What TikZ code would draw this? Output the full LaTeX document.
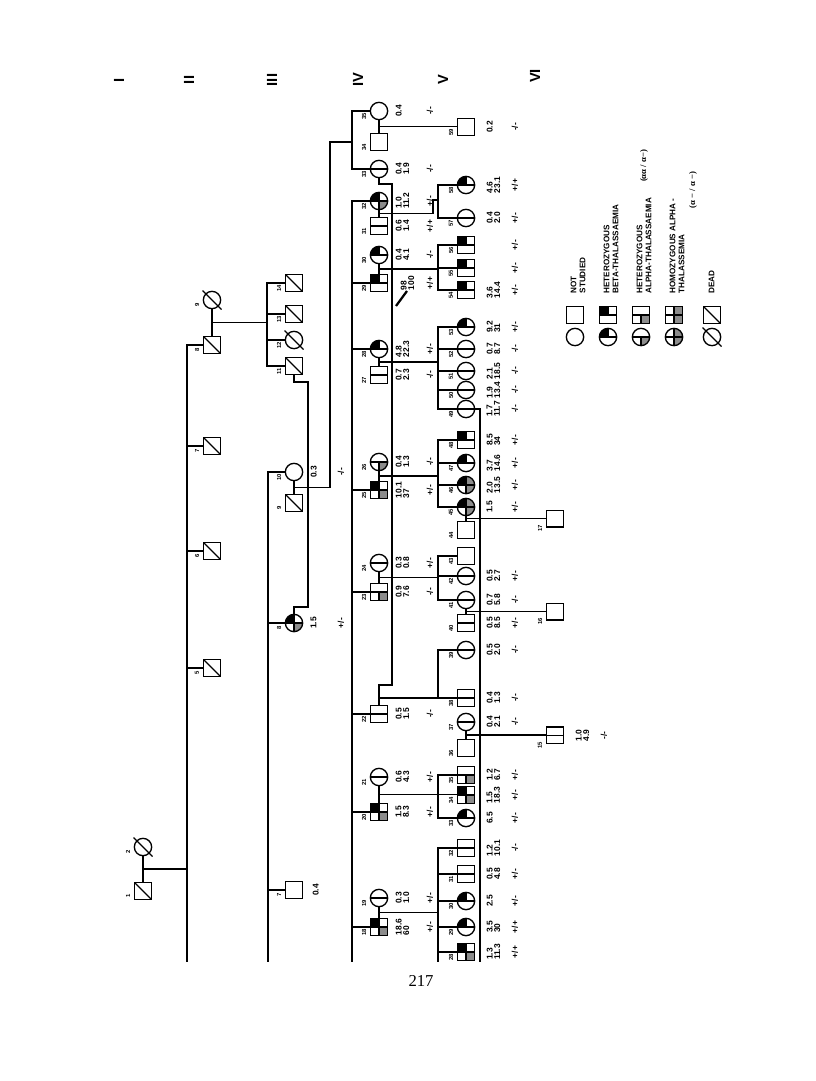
\documentclass[tikz,border=0pt]{standalone}
\usepackage{fontspec}
\setmainfont{Liberation Serif}
\newfontfamily\hv{Liberation Sans}
\usetikzlibrary{calc}
\def\pb{path picture bounding box}
\tikzset{
 ind/.style={draw, line width=1pt, inner sep=0pt, fill=white},
 sq/.style={ind, rectangle, minimum size=12.5pt},
 ci/.style={ind, circle, minimum size=13pt},
 tA/.style={path picture={\draw[line width=0.8pt] (\pb.west) -- (\pb.east);}},
 tB/.style={path picture={\fill[black] (\pb.center) rectangle (\pb.north west);
   \draw[line width=0.8pt] (\pb.west) -- (\pb.east) (\pb.center) -- (\pb.north);}},
 tBA/.style={path picture={\fill[black] (\pb.center) rectangle (\pb.north west);
   \fill[black!45] (\pb.center) rectangle (\pb.south east);
   \draw[line width=0.8pt] (\pb.west) -- (\pb.east) (\pb.north) -- (\pb.south);}},
 tAG/.style={path picture={\fill[black!45] (\pb.center) rectangle (\pb.south east);
   \draw[line width=0.8pt] (\pb.west) -- (\pb.east) (\pb.center) -- (\pb.south);}},
 tBD/.style={path picture={\fill[black] (\pb.center) rectangle (\pb.north west);
   \fill[black!45] (\pb.north) rectangle (\pb.south east);
   \draw[line width=0.8pt] (\pb.west) -- (\pb.east) (\pb.north) -- (\pb.south);}},
 tH/.style={path picture={\fill[black!45] (\pb.north) rectangle (\pb.south east);
   \draw[line width=0.8pt] (\pb.west) -- (\pb.east) (\pb.north) -- (\pb.south);}},
 tD/.style={path picture={\draw[line width=0.9pt] (\pb.north west) -- (\pb.south east);}},
 idl/.style={rotate=90, inner sep=0pt, font=\hv\bfseries\fontsize{4.4pt}{4.6pt}\selectfont},
 val/.style={rotate=90, anchor=north, align=left, inner sep=0pt, font=\hv\bfseries\fontsize{6.3pt}{5.6pt}\selectfont},
 gtp/.style={rotate=90, inner sep=0pt, font=\hv\bfseries\fontsize{6.3pt}{6pt}\selectfont},
 lgd/.style={rotate=90, anchor=north west, align=left, inner sep=0pt, font=\hv\bfseries\fontsize{6.1pt}{6.8pt}\selectfont},
 grk/.style={rotate=90, inner sep=0pt, font=\rmfamily\bfseries\fontsize{6.5pt}{7pt}\selectfont},
 gl/.style={rotate=90, inner sep=0pt, font=\hv\bfseries\fontsize{11pt}{12pt}\selectfont},
}
% individual: name, style, x, y, label
\newcommand\Nd[5]{\node[#2] (#1) at (#3,#4) {};\node[idl] (#1n) at ($(#1)+(-15,5)$) {#5};}
\newcommand\NdVI[5]{\node[#2] (#1) at (#3,#4) {};\node[idl] (#1n) at ($(#1)+(-15,10)$) {#5};}
\newcommand\Slash[1]{\draw[line width=0.9pt] ($(#1)+(-9.5,-9.5)$) -- ($(#1)+(9.5,9.5)$);}
\newcommand\DIII[3]{\node[val] (#1v) at ($(#1)+(16,0)$) {#2};\node[gtp] (#1g) at ($(#1)+(47,0)$) {#3};}
\newcommand\DIV[3]{\node[val] (#1v) at ($(#1)+(16,0)$) {#2};\node[gtp] (#1g) at ($(#1)+(51,0)$) {#3};}
\newcommand\DV[3]{\node[val] (#1v) at ($(#1)+(20,0)$) {#2};\node[gtp] (#1g) at ($(#1)+(49,0)$) {#3};}
\newcommand\GV[2]{\node[gtp] (#1g) at ($(#1)+(49,0)$) {#2};}
\begin{document}
\begin{tikzpicture}[x={(0.75pt,0)},y={(0,-0.75pt)},line width=1.05pt]
\fill[white] (0,0) rectangle (816,1081);
\useasboundingbox (0,0) rectangle (816,1081);

% generation labels
\node[gl] (gI) at (119,80) {I};
\node[gl] (gII) at (189,80) {II};
\node[gl] (gIII) at (272,80) {III};
\node[gl] (gIV) at (358,80) {IV};
\node[gl] (gV) at (443,80) {V};
\node[gl] (gVI) at (535,76) {VI};

% ---------- generation I
\Nd{I2}{ci}{143}{847}{2}\Slash{I2}
\Nd{I1}{sq,tD}{143}{891}{1}
% ---------- generation II
\Nd{II9}{ci}{212}{300}{9}\Slash{II9}
\Nd{II8}{sq,tD}{212}{345}{8}
\Nd{II7}{sq,tD}{212}{446}{7}
\Nd{II6}{sq,tD}{212}{551}{6}
\Nd{II5}{sq,tD}{212}{668}{5}
% ---------- generation III
\Nd{III14}{sq,tD}{294}{283}{14}
\Nd{III13}{sq,tD}{294}{314}{13}
\Nd{III12}{ci}{294}{340}{12}\Slash{III12}
\Nd{III11}{sq,tD}{294}{366}{11}
\Nd{III10}{ci}{294}{472}{10}
\Nd{III9}{sq,tD}{294}{503}{9}
\Nd{III8}{ci,tBA}{294}{623}{8}
\Nd{III7}{sq}{294}{890}{7}
\DIII{III10}{0.3}{-/-}
\DIII{III8}{1.5}{+/-}
\node[val] (III7v) at ($(III7)+(18,0)$) {0.4};

% ---------- generation IV
\Nd{IV35}{ci}{379}{111}{35}
\Nd{IV34}{sq}{379}{142}{34}
\Nd{IV33}{ci,tA}{379}{169}{33}
\Nd{IV32}{ci,tBA}{379}{201}{32}
\Nd{IV31}{sq,tA}{379}{226}{31}
\Nd{IV30}{ci,tB}{379}{255}{30}
\Nd{IV29}{sq,tB}{379}{283}{29}
\Nd{IV28}{ci,tB}{379}{349}{28}
\Nd{IV27}{sq,tA}{379}{375}{27}
\Nd{IV26}{ci,tAG}{379}{462}{26}
\Nd{IV25}{sq,tBA}{379}{490}{25}
\Nd{IV24}{ci,tA}{379}{563}{24}
\Nd{IV23}{sq,tAG}{379}{592}{23}
\Nd{IV22}{sq,tA}{379}{714}{22}
\Nd{IV21}{ci,tA}{379}{777}{21}
\Nd{IV20}{sq,tBA}{379}{812}{20}
\Nd{IV19}{ci,tA}{379}{898}{19}
\Nd{IV18}{sq,tBA}{379}{927}{18}
\DIV{IV35}{0.4}{-/-}
\DIV{IV33}{0.4\\1.9}{-/-}
\DIV{IV32}{1.0\\11.2}{+/-}
\DIV{IV31}{0.6\\1.4}{+/+}
\DIV{IV30}{0.4\\4.1}{-/-}
\node[val] (IV29v) at ($(IV29)+(21,0)$) {98\\100};
\node[gtp] (IV29g) at ($(IV29)+(51,0)$) {+/+};
\DIV{IV28}{4.8\\22.3}{+/-}
\DIV{IV27}{0.7\\2.3}{-/-}
\DIV{IV26}{0.4\\1.3}{-/-}
\DIV{IV25}{10.1\\37}{+/-}
\DIV{IV24}{0.3\\0.8}{+/-}
\DIV{IV23}{0.9\\7.6}{-/-}
\DIV{IV22}{0.5\\1.5}{-/-}
\DIV{IV21}{0.6\\4.3}{+/-}
\DIV{IV20}{1.5\\8.3}{+/-}
\DIV{IV19}{0.3\\1.0}{+/-}
\DIV{IV18}{18.6\\60}{+/-}
% proband mark
\draw[line width=1.7pt] (396,306) -- (407,291);

% ---------- generation V
\Nd{V59}{sq}{466}{127}{59}
\Nd{V58}{ci,tB}{466}{185}{58}
\Nd{V57}{ci,tA}{466}{218}{57}
\Nd{V56}{sq,tB}{466}{245}{56}
\Nd{V55}{sq,tB}{466}{268}{55}
\Nd{V54}{sq,tB}{466}{290}{54}
\Nd{V53}{ci,tB}{466}{327}{53}
\Nd{V52}{ci,tA}{466}{349}{52}
\Nd{V51}{ci,tA}{466}{371}{51}
\Nd{V50}{ci,tA}{466}{390}{50}
\Nd{V49}{ci,tA}{466}{409}{49}
\Nd{V48}{sq,tB}{466}{440}{48}
\Nd{V47}{ci,tB}{466}{463}{47}
\Nd{V46}{ci,tBD}{466}{485}{46}
\Nd{V45}{ci,tBD}{466}{507}{45}
\Nd{V44}{sq}{466}{530}{44}
\Nd{V43}{sq}{466}{556}{43}
\Nd{V42}{ci,tA}{466}{576}{42}
\Nd{V41}{ci,tA}{466}{600}{41}
\Nd{V40}{sq,tA}{466}{623}{40}
\Nd{V39}{ci,tA}{466}{650}{39}
\Nd{V38}{sq,tA}{466}{698}{38}
\Nd{V37}{ci,tA}{466}{722}{37}
\Nd{V36}{sq}{466}{748}{36}
\Nd{V35}{sq,tAG}{466}{775}{35}
\Nd{V34}{sq,tBA}{466}{795}{34}
\Nd{V33}{ci,tB}{466}{818}{33}
\Nd{V32}{sq,tA}{466}{848}{32}
\Nd{V31}{sq,tA}{466}{874}{31}
\Nd{V30}{ci,tB}{466}{901}{30}
\Nd{V29}{ci,tB}{466}{927}{29}
\Nd{V28}{sq,tBA}{466}{952}{28}
\DV{V59}{0.2}{-/-}
\DV{V58}{4.6\\23.1}{+/+}
\DV{V57}{0.4\\2.0}{+/-}
\GV{V56}{+/-}
\GV{V55}{+/-}
\DV{V54}{3.6\\14.4}{+/-}
\DV{V53}{9.2\\31}{+/-}
\DV{V52}{0.7\\8.7}{-/-}
\DV{V51}{2.1\\18.5}{-/-}
\DV{V50}{1.9\\13.4}{-/-}
\DV{V49}{1.7\\11.7}{-/-}
\DV{V48}{8.5\\34}{+/-}
\DV{V47}{3.7\\14.6}{+/-}
\DV{V46}{2.0\\13.5}{+/-}
\DV{V45}{1.5}{+/-}
\DV{V42}{0.5\\2.7}{+/-}
\DV{V41}{0.7\\5.8}{-/-}
\DV{V40}{0.5\\8.5}{+/-}
\DV{V39}{0.5\\2.0}{-/-}
\DV{V38}{0.4\\1.3}{-/-}
\DV{V37}{0.4\\2.1}{-/-}
\DV{V35}{1.2\\6.7}{+/-}
\DV{V34}{1.5\\18.3}{+/-}
\DV{V33}{6.5}{+/-}
\DV{V32}{1.2\\10.1}{-/-}
\DV{V31}{0.5\\4.8}{+/-}
\DV{V30}{2.5}{+/-}
\DV{V29}{3.5\\30}{+/+}
\DV{V28}{1.3\\11.3}{+/+}

% ---------- generation VI
\NdVI{VI17}{sq}{555}{518.7}{17}
\NdVI{VI16}{sq}{555}{611.7}{16}
\NdVI{VI15}{sq,tA}{555}{735.2}{15}
\DV{VI15}{1.0\\4.9}{-/-}

% ---------- connectors
\coordinate (c2) at (187,962);
\coordinate (c3a) at (267,283);
\coordinate (c3c) at (268,962);
\coordinate (c4u) at (352,140);
\coordinate (c4l) at (352,962);
\coordinate (cV) at (438,0);
\coordinate (c5e) at (438,962);
\coordinate (r1) at (480,962);
\coordinate (j1) at (330,142);
\coordinate (jg) at (433,200);
\coordinate (k1) at (308,382);
\coordinate (k2) at (308,607);
\coordinate (q1) at (392,184);
\coordinate (q2) at (392,685);
\coordinate (q3) at (379,698);

% gen I
\draw (I2) -- (I1);
\coordinate (m1) at ($(I2.south)!0.5!(I1.north)$);
\draw (m1) -- (m1 -| c2);
\draw (II8.west) -| (c2);
\foreach \n in {II7,II6,II5} \draw (\n.west) -- (\n.west -| c2);
% gen II couple
\draw (II9) -- (II8);
\coordinate (m9) at ($(II9.south)!0.5!(II8.north)$);
\draw (m9) -- (m9 -| c3a);
\draw (III14.west) -- (III14.west -| c3a) -- (III11.west -| c3a) -- (III11.west);
\foreach \n in {III13,III12} \draw (\n.west) -- (\n.west -| c3a);
% gen III lower line
\draw (III10.west) -| (c3c);
\foreach \n in {III8,III7} \draw (\n.west) -- (\n.west -| c3c);
\draw (III10) -- (III9);
\coordinate (m10) at ($(III10.south)!0.5!(III9.north)$);
\draw (m10) -| (j1) -- (j1 -| c4u);
\draw (III11.south) |- (k1) -- (k2) -| (III8.north);

% gen IV lines
\draw (IV35.west) -| (c4u) |- (IV33.west);
\draw (IV32.west) -| (c4l);
\foreach \n in {IV29,IV28,IV25,IV23,IV22,IV20,IV18} \draw (\n.west) -- (\n.west -| c4l);
\draw (IV35) -- (IV34);
\coordinate (m35) at ($(IV35.south)!0.5!(IV34.north)$);
\draw (m35) -- (m35 -| V59.west);
% 32 x 31
\draw (IV32) -- (IV31);
\coordinate (m32) at ($(IV32.south)!0.5!(IV31.north)$);
\draw (m32) -| (jg) -- (jg -| cV);
\draw (V58.west) -- (V58.west -| cV) -- (V57.west -| cV) -- (V57.west);
% 30 x 29
\draw (IV30) -- (IV29);
\coordinate (m30) at ($(IV30.south)!0.5!(IV29.north)$);
\draw (m30) -- (m30 -| cV);
\draw (V56.west) -- (V56.west -| cV) -- (V54.west -| cV) -- (V54.west);
\draw (V55.west) -- (V55.west -| cV);
% 28 x 27
\draw (IV28) -- (IV27);
\coordinate (m28) at ($(IV28.south)!0.5!(IV27.north)$);
\draw (m28) -- (m28 -| cV);
\draw (V53.west) -- (V53.west -| cV) -- (V49.west -| cV) -- (V49.west);
\foreach \n in {V52,V51,V50} \draw (\n.west) -- (\n.west -| cV);
% 26 x 25
\draw (IV26) -- (IV25);
\coordinate (m26) at ($(IV26.south)!0.5!(IV25.north)$);
\draw (m26) -- (m26 -| cV);
\draw (V48.west) -- (V48.west -| cV) -- (V45.west -| cV) -- (V45.west);
\foreach \n in {V47,V46} \draw (\n.west) -- (\n.west -| cV);
% 24 x 23
\draw (IV24) -- (IV23);
\coordinate (m24) at ($(IV24.south)!0.5!(IV23.north)$);
\draw (m24) -- (m24 -| cV);
\draw (V43.west) -- (V43.west -| cV) -- (V41.west -| cV) -- (V41.west);
\draw (V42.west) -- (V42.west -| cV);
% 33 x 22 (long marriage line)
\draw (IV33.south) |- (q1) -- (q2) -| (IV22.north);
\draw (q3) -- (V38.west);
\draw (V39.west) -- (V39.west -| cV) -- (V38.west -| cV);
% 21 x 20
\draw (IV21) -- (IV20);
\coordinate (m21) at ($(IV21.south)!0.5!(IV20.north)$);
\draw (m21) -- (m21 -| V34.west);
\draw (V35.west) -- (V35.west -| cV) -- (V33.west -| cV) -- (V33.west);
% 19 x 18
\draw (IV19) -- (IV18);
\coordinate (m19) at ($(IV19.south)!0.5!(IV18.north)$);
\draw (m19) -- (m19 -| cV);
\draw (V32.west) -- (V32.west -| cV) -- (c5e);
\foreach \n in {V31,V30,V29,V28} \draw (\n.west) -- (\n.west -| cV);

% gen V couples
\draw (V49.east) -| (r1);
\draw (V45) -- (V44);
\coordinate (m45) at ($(V45.south)!0.5!(V44.north)$);
\draw (m45) -- (m45 -| VI17.west);
\draw (V41) -- (V40);
\coordinate (m41) at ($(V41.south)!0.5!(V40.north)$);
\draw (m41) -- (m41 -| VI16.west);
\draw (V37) -- (V36);
\coordinate (m37) at ($(V37.south)!0.5!(V36.north)$);
\draw (m37) -- (m37 -| VI15.west);

% ---------- legend
\node[ci] (L1c) at (575,337) {};
\node[sq] (L1s) at (575,315) {};
\node[ci,tB] (L2c) at (608,337) {};
\node[sq,tB] (L2s) at (608,315) {};
\node[ci,tAG] (L3c) at (641,337) {};
\node[sq,tAG] (L3s) at (641,315) {};
\node[ci,tH] (L4c) at (674,337) {};
\node[sq,tH] (L4s) at (674,315) {};
\node[ci] (L5c) at (712,337) {};\Slash{L5c}
\node[sq,tD] (L5s) at (712,315) {};
\node[lgd] (t1) at (570,294) {NOT\\STUDIED};
\node[lgd] (t2) at (603,294) {HETEROZYGOUS\\BETA-THALASSAEMIA};
\node[lgd] (t3) at (636,294) {HETEROZYGOUS\\ALPHA-THALASSAEMIA};
\node[grk] (t3b) at (644,166) {(αα / α−)};
\node[lgd] (t4) at (669,294) {HOMOZYGOUS ALPHA -\\THALASSEMIA};
\node[grk] (t4b) at (693,190) {(α − / α −)};
\node[lgd] (t5) at (708,294) {DEAD};

% page number
\node[font=\rmfamily\fontsize{12.5pt}{14pt}\selectfont, inner sep=0pt] (pg) at (421,981) {217};
\end{tikzpicture}
\end{document}
